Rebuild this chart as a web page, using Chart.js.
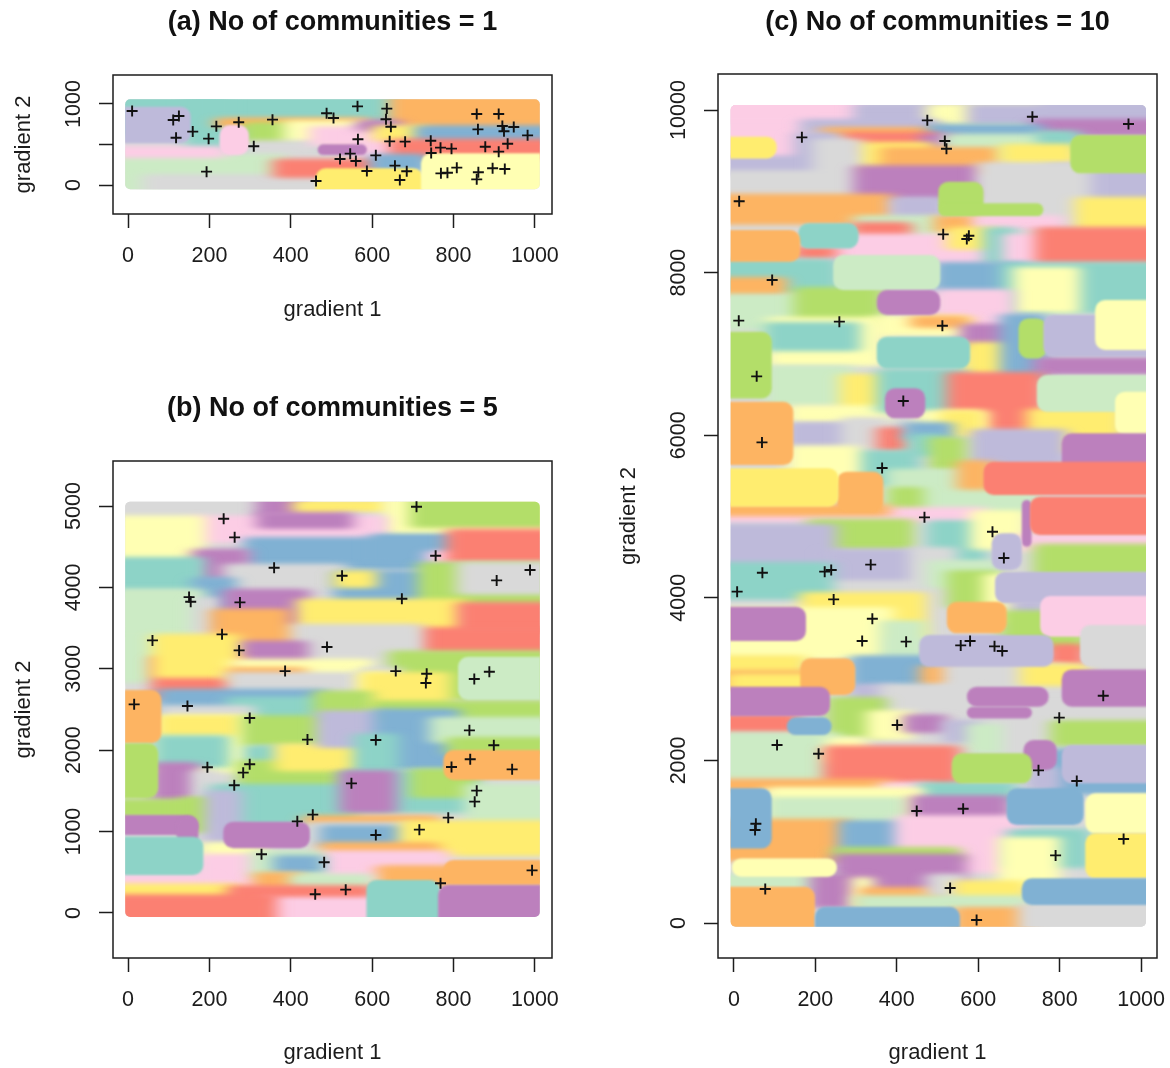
<!DOCTYPE html>
<html>
<head>
<meta charset="utf-8">
<title>No of communities</title>
<script src="https://cdn.jsdelivr.net/npm/chart.js@4"></script>
<style>
  html, body { margin: 0; background: #fff; overflow: hidden; }
  canvas { position: absolute; }
</style>
</head>
<body>
<svg width="0" height="0" style="position:absolute">
  <filter id="smear" filterUnits="userSpaceOnUse" x="-100" y="-100" width="1400" height="1400">
    <feGaussianBlur stdDeviation="8 2.5"/>
  </filter>
</svg>
<canvas id="panelA" width="590" height="330" style="left:0px;top:0px"></canvas>
<canvas id="panelB" width="590" height="682" style="left:0px;top:386px"></canvas>
<canvas id="panelC" width="565" height="1068" style="left:605px;top:0px"></canvas>
<script>
// community colours
const communityColors = ['#8DD3C7', '#FFFFB3', '#BEBADA', '#FB8072', '#80B1D3', '#FDB462',
                         '#B3DE69', '#FCCDE5', '#D9D9D9', '#BC80BD', '#CCEBC5', '#FFED6F'];

const xTicks = [0, 200, 400, 600, 800, 1000];
const aYTicks = [0, 500, 1000];
const aYLabels = [0, 1000];
const bYTicks = [0, 1000, 2000, 3000, 4000, 5000];
const cYTicks = [0, 2000, 4000, 6000, 8000, 10000];

// sampled sites [gradient 1, gradient 2]
const aSites = [[10,914],[111,803],[125,852],[118,584],[159,659],[198,572],[217,724],[193,165],[272,774],[309,478],
  [355,807],[462,50],[488,885],[505,827],[564,971],[565,564],[546,387],[521,321],[560,296],[587,173],
  [609,366],[636,943],[634,811],[646,720],[643,539],[656,239],[668,62],[685,169],[681,535],[744,547],
  [745,395],[768,461],[769,144],[785,152],[795,449],[808,214],[857,877],[860,687],[878,473],[861,157],
  [857,70],[896,206],[911,877],[920,729],[924,663],[911,412],[926,198],[933,510],[948,716],[982,613]];
const bSites = [[709,4991],[235,4844],[262,4615],[756,4389],[359,4242],[526,4144],[906,4086],[988,4213],[150,3881],[154,3824],
  [275,3816],[673,3861],[231,3423],[60,3349],[273,3226],[489,3267],[386,2972],[658,2972],[734,2940],[732,2825],
  [851,2874],[888,2964],[15,2563],[146,2543],[299,2396],[839,2244],[441,2130],[609,2126],[899,2060],[195,1790],
  [299,1827],[283,1724],[795,1794],[841,1888],[944,1765],[261,1569],[549,1593],[857,1503],[852,1368],[787,1171],
  [454,1208],[416,1126],[716,1024],[609,958],[328,721],[482,623],[993,524],[768,365],[535,287],[460,230]];
const cSites = [[475,9873],[733,9918],[969,9828],[167,9664],[518,9619],[522,9524],[13,8877],[514,8471],[577,8454],[572,8413],
  [94,7909],[12,7409],[259,7397],[512,7347],[56,6724],[416,6421],[69,5912],[364,5597],[468,4990],[635,4813],
  [663,4490],[336,4408],[70,4309],[223,4322],[239,4342],[8,4076],[245,3981],[340,3743],[315,3469],[423,3461],
  [557,3415],[580,3469],[640,3403],[659,3346],[907,2796],[799,2526],[401,2435],[106,2190],[208,2083],[748,1878],
  [842,1747],[449,1378],[563,1406],[54,1222],[52,1144],[957,1033],[790,832],[77,418],[531,431],[596,37]];

// community patches [x from, x to, y from, y to, community]
const aSoftPatches = [[-7,1012,-53,1058,8],[-7,658,638,1058,0],[154,230,473,1058,0],[658,1012,700,1058,5],[230,578,740,795,5],
  [297,453,453,617,0],[297,390,515,741,6],[399,578,535,762,1],[297,461,350,515,8],[462,587,510,690,7],[578,658,350,700,7],
  [578,658,700,770,9],[618,720,576,700,11],[720,1012,535,700,4],[658,1012,350,535,3],[-7,372,-53,350,10],[51,461,-53,95,8],
  [372,609,124,288,3],[609,720,206,350,4],[-7,225,370,445,7]];
const aCrispPatches = [[-7,154,515,967,2],[225,297,370,741,7],[466,587,370,502,9],[461,725,-53,206,11],[720,1012,-53,391,1]];

const bSoftPatches = [[-7,1012,-50,5053,8],[-7,332,4848,5053,8],[332,422,4889,5053,9],[422,627,4889,5040,11],[537,644,4643,4889,8],
  [644,1012,4643,5053,1],[709,1012,4766,5053,6],[173,619,4582,4848,7],[332,537,4754,4889,9],[-7,173,4357,4848,1],
  [300,799,4254,4582,4],[611,799,4316,4623,4],[750,832,4316,4418,7],[799,1012,4336,4684,3],[173,283,4111,4438,9],
  [-7,173,3988,4336,0],[250,521,3865,4254,8],[521,734,3845,4172,4],[521,594,4029,4172,11],[730,1012,3804,4275,6],[824,1012,3947,4275,8],
  [173,250,3538,4090,4],[-7,173,3435,3947,10],[173,214,3435,3845,8],[250,431,3538,3947,9],[431,815,3476,3824,11],
  [824,1012,3476,3783,3],[717,1012,3230,3476,3],[381,709,3148,3517,8],[218,381,3189,3701,5],[-7,74,2862,3435,10],
  [259,427,2985,3312,9],[74,263,2657,3128,3],[74,259,2923,3394,11],[267,586,2923,3087,1],[259,422,2862,2985,5],
  [259,586,2718,2923,8],[656,1012,2657,3189,6],[586,656,2923,2985,8],[586,627,2452,2923,1],[586,775,2534,2923,11],[87,472,2392,2718,4],
  [259,472,2392,2620,0],[472,586,2453,2698,6],[611,1012,2392,2575,6],[87,295,2392,2515,8],[87,295,1757,2392,1],
  [87,259,2208,2392,11],[78,234,1818,2146,0],[74,160,1409,1818,9],[295,476,2085,2392,6],[300,365,1880,2023,0],
  [283,537,1204,1839,6],[377,566,1777,2044,11],[480,619,2064,2453,2],[619,799,1798,2474,4],[570,648,1757,2167,0],
  [758,1012,2126,2371,10],[799,1012,1982,2126,6],[173,210,1388,1716,8],[218,537,1122,1552,0],[537,844,1266,1716,0],
  [709,840,1450,1737,6],[537,644,1266,1716,9],[844,1012,1143,1552,10],[-7,201,1204,1368,6],[144,201,1020,1388,6],
  [205,263,877,1470,2],[447,750,1094,1163,5],[447,684,856,1081,8],[488,668,856,1040,4],[684,1012,733,1102,11],
  [193,324,692,836,1],[488,750,733,836,5],[185,316,324,692,7],[488,775,406,733,7],[316,463,467,733,10],[373,463,529,672,4],
  [627,1012,365,549,5],[324,414,324,467,5],[414,586,324,446,10],[-7,185,324,446,7],[-7,259,193,324,11],[259,586,160,303,3],
  [349,766,-50,160,7],[-7,349,-50,193,3]];
const bCrispPatches = [[811,1012,2616,3148,10],[-7,82,2085,2739,5],[-7,74,1409,2085,6],
  [775,1012,1634,2003,5],[-7,173,958,1204,9],[119,173,836,1184,9],[-7,185,467,938,0],[234,447,795,1122,9],[775,1012,365,651,5],
  [586,766,-50,406,0],[762,1012,-50,344,9]];

const cSoftPatches = [[-8,1012,-45,10062,8],[-8,163,9405,10062,7],[-8,310,9856,10062,7],[310,1012,9856,10050,2],[490,736,9803,10041,1],
  [588,1012,9856,10041,2],[179,490,9754,9856,2],[744,1012,9713,9856,9],[228,490,9692,9754,5],[490,744,9651,9795,4],
  [285,490,9487,9692,3],[474,531,9549,9672,9],[531,760,9426,9672,10],[760,834,9528,9713,0],[294,474,9242,9569,11],
  [376,637,9242,9508,5],[670,826,9344,9549,11],[163,244,9262,9692,2],[-8,244,9221,9405,2],[210,298,8955,9610,8],
  [-8,298,8955,9221,8],[310,597,8934,9283,9],[785,1012,8913,9303,2],[613,859,8565,9323,8],[-8,375,8627,8934,5],
  [400,502,8696,8893,2],[854,1012,8565,8893,11],[310,507,8442,8668,10],[507,588,8524,8668,5],[604,793,8565,8668,7],
  [306,420,8454,8586,3],[236,645,8094,8442,7],[539,629,8319,8524,11],[163,236,8208,8286,3],[629,678,8134,8524,0],
  [678,826,8114,8442,7],[756,1012,8147,8524,3],[-8,244,7786,8134,0],[-8,113,7745,7909,5],[507,703,7786,8094,4],
  [670,1012,7540,8094,0],[703,834,7540,8032,1],
  [-8,163,7335,7700,10],[163,351,7397,7786,6],[507,670,7335,7760,7],[359,564,7253,7437,1],[449,564,7356,7437,5],
  [97,351,6884,7417,1],[89,294,7069,7356,0],[572,687,7110,7335,9],[580,674,6781,7110,11],[670,752,6720,7458,4],
  [752,1012,6781,6925,9],[93,277,6392,6822,10],[277,371,6331,6720,11],[146,367,6187,6331,1],[367,555,6310,6781,0],
  [539,744,6064,6740,3],[736,936,5818,6290,11],[146,281,5880,6126,2],[281,367,5839,6187,8],[367,416,5839,6064,3],
  [465,605,6044,6269,1],[523,597,6023,6269,11],[433,523,5982,6126,4],[441,498,5777,5982,0],[597,801,5674,6044,2],
  [494,555,5593,5941,6],[298,441,5408,5777,0],[146,294,5428,5838,1],[392,727,5039,5552,10],[396,449,5039,5326,6],
  [564,621,5367,5654,5],[-8,605,4957,5080,7],[-8,367,5039,5121,5],
  [195,425,4629,4936,6],[-8,236,4404,4875,2],[490,604,4465,4916,0],[597,703,4629,5039,1],[707,1012,4609,4752,7],
  [752,1012,4301,4629,6],[236,449,4178,4568,2],[212,490,3973,4178,8],[449,531,3522,4588,8],[490,637,4158,4424,10],
  [-8,228,4014,4404,0],[539,637,3912,4301,6],[629,691,3727,4260,1],[695,752,3809,3932,2],[179,457,3542,4034,11],
  [-8,375,3276,3850,1],[670,846,3399,3809,6],[375,457,3276,3686,10],[785,846,3214,3399,3],[-8,163,3071,3256,11],
  [302,474,2928,3256,4],[474,531,2948,3133,5],[531,809,2866,3153,8],[719,850,2948,3153,11],[-8,228,2907,3071,5],
  [-1,220,2907,3030,11],[302,375,2620,2907,2],[375,572,2538,2907,8],[732,1012,2517,2661,8],[-8,146,2374,2538,3],
  [244,359,2313,2743,6],[343,425,2292,2579,1],
  [433,507,2374,2530,9],[531,588,2251,2456,2],[588,678,2128,2415,10],[678,793,2087,2497,8],[793,1012,2210,2456,6],
  [785,1012,1616,2107,4],[736,785,1677,1882,2],[-8,244,1800,2313,10],[244,310,2005,2251,1],[236,539,1739,2148,3],[-8,375,1657,1739,5],
  [375,465,1554,1698,7],[465,678,1533,1698,0],[93,449,1267,1636,1],[93,408,1164,1513,10],[449,662,1308,1534,9],
  [-8,269,795,1246,5],[273,412,877,1226,4],[412,703,857,1288,7],[539,662,652,898,7],[261,539,795,898,6],
  [687,859,713,1123,0],[666,785,467,1021,1],[261,555,406,816,9],[-8,244,447,570,10],[203,306,222,570,9],
  [306,326,222,529,1],[326,490,222,406,5],[490,555,365,570,8],[555,703,324,488,11],[310,707,201,304,10],
  [555,719,-45,160,5],[715,1012,-45,201,8]];
const cCrispPatches = [[-8,105,9405,9672,11],[826,1012,9221,9692,6],[502,613,8709,9119,6],[502,760,8696,8852,6],[158,306,8298,8606,0],
  [-8,163,8134,8524,5],[244,507,7786,8216,10],[351,507,7479,7786,9],[351,580,6822,7212,0],[-8,93,6453,7273,6],
  [699,768,6945,7437,6],[760,1012,6966,7479,2],[887,1012,7048,7663,1],[371,470,6208,6577,9],[744,1012,6290,6740,10],
  [936,1012,6003,6536,1],[805,1012,5551,6023,9],[-8,146,5633,6412,5],[253,367,5059,5552,5],[-8,257,5121,5593,11],
  [613,1012,5265,5674,3],[707,731,4629,5203,9],[727,1012,4772,5244,3],[633,707,4342,4793,2],[641,1012,3932,4322,2],
  [752,1012,3522,4022,7],[-8,177,3469,3891,9],[523,670,3563,3953,5],[850,1012,3153,3666,8],[455,785,3153,3543,2],
  [163,298,2805,3256,5],[805,1012,2661,3120,9],[-8,236,2546,2907,9],[572,773,2661,2907,9],[572,732,2517,2661,9],
  [130,240,2313,2530,4],[711,793,1882,2251,9],[805,1012,1718,2190,2],[535,732,1718,2087,6],
  [670,859,1205,1657,4],[-8,93,918,1657,4],[863,1012,1103,1595,1],[863,1012,550,1103,11],[-5,253,570,795,1],
  [-8,199,-45,447,5],[707,1012,222,550,4],[199,555,-45,201,4]];

const fontFamily = '"Liberation Sans", Arial, sans-serif';
const inkColor = '#1c1c1c';

// fills the soft patches then the sharper ones, clipped to the sampled extent
const patchPlugin = {
    id: 'patches',
    beforeDatasetsDraw(chart, args, opts) {
        const { ctx, scales: { x, y } } = chart;
        const left = x.getPixelForValue(opts.extent[0]);
        const right = x.getPixelForValue(opts.extent[1]);
        const top = y.getPixelForValue(opts.extent[3]);
        const bottom = y.getPixelForValue(opts.extent[2]);
        ctx.save();
        ctx.beginPath();
        ctx.roundRect(left, top, right - left, bottom - top, 5);
        ctx.clip();
        // [patches, canvas filter, corner radius, pad x, pad y]
        const layers = [[opts.soft, 'url(#smear)', 4, 7, 3], [opts.crisp, 'blur(1.2px)', 10, 0, 0]];
        layers.forEach(([patches, filter, radius, padX, padY]) => {
            ctx.filter = filter;
            patches.forEach(p => {
                let x0 = x.getPixelForValue(p[0]) - padX, x1 = x.getPixelForValue(p[1]) + padX;
                let y1 = y.getPixelForValue(p[2]) + padY, y0 = y.getPixelForValue(p[3]) - padY;
                // bleed past the extent so the blur does not fade at its edge
                if (p[0] <= opts.extent[0] + 2) x0 -= 30;
                if (p[1] >= opts.extent[1] - 2) x1 += 30;
                if (p[2] <= opts.extent[2] + 5) y1 += 20;
                if (p[3] >= opts.extent[3] - 5) y0 -= 20;
                ctx.fillStyle = communityColors[p[4]];
                ctx.beginPath();
                ctx.roundRect(x0, y0, x1 - x0, y1 - y0, Math.min(radius, (y1 - y0) / 2));
                ctx.fill();
            });
        });
        ctx.restore();
    }
};

// R style frame and rotated y tick labels
const framePlugin = {
    id: 'frame',
    afterDraw(chart, args, opts) {
        const { ctx, chartArea: area, scales: { y } } = chart;
        ctx.save();
        ctx.strokeStyle = inkColor;
        ctx.lineWidth = 1.5;
        ctx.strokeRect(area.left, area.top, area.right - area.left, area.bottom - area.top);
        ctx.fillStyle = inkColor;
        ctx.font = `21.5px ${fontFamily}`;
        ctx.textAlign = 'center';
        ctx.textBaseline = 'middle';
        opts.labels.forEach(v => {
            ctx.save();
            ctx.translate(area.left - 39, y.getPixelForValue(v));
            ctx.rotate(-Math.PI / 2);
            ctx.fillText(String(v), 0, 0);
            ctx.restore();
        });
        ctx.restore();
    }
};

function makePanel(id, cfg) {
    const canvas = document.getElementById(id);
    return new Chart(canvas.getContext('2d'), {
        type: 'scatter',
        data: {
            datasets: [{
                data: cfg.sites.map(s => ({ x: s[0], y: s[1] })),
                pointStyle: 'cross',
                pointRadius: 5.5,
                pointHoverRadius: 5.5,
                borderColor: '#111',
                backgroundColor: '#111',
                borderWidth: 1.9
            }]
        },
        options: {
            responsive: false,
            animation: false,
            events: [],
            layout: { padding: { right: cfg.rightGap } },
            plugins: {
                legend: { display: false },
                tooltip: { enabled: false },
                title: {
                    display: true,
                    text: cfg.title,
                    fullSize: false,
                    color: '#111',
                    font: { family: fontFamily, size: 27, weight: 'bold', lineHeight: 1.2 },
                    padding: { top: 6, bottom: cfg.titleGap }
                },
                patches: { soft: cfg.soft, crisp: cfg.crisp, extent: cfg.extent },
                frame: { labels: cfg.yLabels }
            },
            scales: {
                x: {
                    type: 'linear',
                    min: cfg.xRange[0],
                    max: cfg.xRange[1],
                    afterBuildTicks: s => { s.ticks = xTicks.map(value => ({ value })); },
                    afterFit: s => {
                        s.height = cfg.bottomSpace;
                        s.paddingLeft = s.paddingRight = 0;
                    },
                    grid: { drawOnChartArea: false, color: inkColor, tickLength: 14, tickWidth: 1.5 },
                    border: { display: false },
                    ticks: {
                        color: inkColor,
                        font: { family: fontFamily, size: 21.5 },
                        padding: 15,
                        maxRotation: 0,
                        autoSkip: false,
                        callback: v => String(v)
                    },
                    title: {
                        display: true,
                        text: 'gradient 1',
                        color: inkColor,
                        font: { family: fontFamily, size: 22 },
                        padding: { top: 0, bottom: cfg.xTitleGap }
                    }
                },
                y: {
                    type: 'linear',
                    min: cfg.yRange[0],
                    max: cfg.yRange[1],
                    afterBuildTicks: s => { s.ticks = cfg.yTicks.map(value => ({ value })); },
                    afterFit: s => {
                        s.width = 113;
                        s.paddingTop = s.paddingBottom = 0;
                    },
                    grid: { drawOnChartArea: false, color: inkColor, tickLength: 14, tickWidth: 1.5 },
                    border: { display: false },
                    ticks: { display: false },
                    title: {
                        display: true,
                        text: 'gradient 2',
                        color: inkColor,
                        font: { family: fontFamily, size: 22 },
                        padding: { top: 11, bottom: 0 }
                    }
                }
            }
        },
        plugins: [patchPlugin, framePlugin]
    });
}

makePanel('panelA', {
    title: '(a) No of communities = 1', sites: aSites, soft: aSoftPatches, crisp: aCrispPatches,
    extent: [-7, 1012, -53, 1058], xRange: [-37, 1042], yRange: [-358, 1358],
    yTicks: aYTicks, yLabels: aYLabels, rightGap: 38, titleGap: 36.6, bottomSpace: 116, xTitleGap: 7
});
makePanel('panelB', {
    title: '(b) No of communities = 5', sites: bSites, soft: bSoftPatches, crisp: bCrispPatches,
    extent: [-7, 1012, -50, 5053], xRange: [-37, 1042], yRange: [-553, 5553],
    yTicks: bYTicks, yLabels: bYTicks, rightGap: 38, titleGap: 36.6, bottomSpace: 110, xTitleGap: 2
});
makePanel('panelC', {
    title: '(c) No of communities = 10', sites: cSites, soft: cSoftPatches, crisp: cCrispPatches,
    extent: [-8, 1012, -45, 10062], xRange: [-39, 1039], yRange: [-430, 10443],
    yTicks: cYTicks, yLabels: cYTicks, rightGap: 13, titleGap: 35.6, bottomSpace: 110, xTitleGap: 2
});
</script>
</body>
</html>
